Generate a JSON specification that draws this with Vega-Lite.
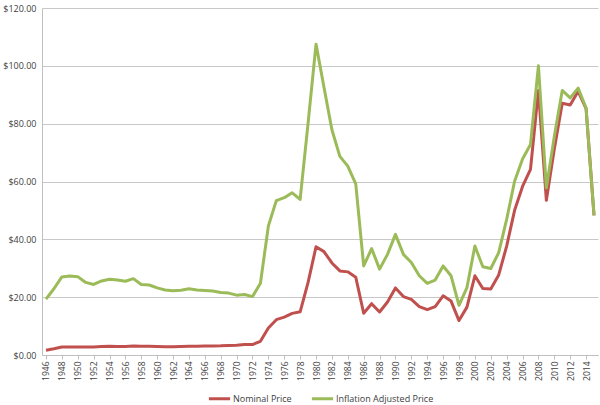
{
  "$schema": "https://vega.github.io/schema/vega-lite/v6.json",
  "autosize": {"type": "fit", "contains": "padding"},
  "width": 600,
  "height": 405,
  "padding": {"left": 2, "top": 4, "right": 2, "bottom": 0},
  "background": "white",
  "config": {
    "view": {"stroke": null},
    "font": "Open Sans",
    "axis": {"labelFont": "Open Sans", "labelColor": "#404040", "labelFontSize": 9},
    "legend": {"layout": {"bottom": {"anchor": "middle"}}}
  },
  "data": {"values": [
    {"year": "1946", "nominal": 1.63, "adjusted": 19.3},
    {"year": "1947", "nominal": 2.16, "adjusted": 22.9},
    {"year": "1948", "nominal": 2.77, "adjusted": 27.0},
    {"year": "1949", "nominal": 2.77, "adjusted": 27.3},
    {"year": "1950", "nominal": 2.77, "adjusted": 27.1},
    {"year": "1951", "nominal": 2.77, "adjusted": 25.1},
    {"year": "1952", "nominal": 2.77, "adjusted": 24.4},
    {"year": "1953", "nominal": 2.92, "adjusted": 25.6},
    {"year": "1954", "nominal": 2.99, "adjusted": 26.2},
    {"year": "1955", "nominal": 2.93, "adjusted": 25.9},
    {"year": "1956", "nominal": 2.94, "adjusted": 25.5},
    {"year": "1957", "nominal": 3.14, "adjusted": 26.4},
    {"year": "1958", "nominal": 3.00, "adjusted": 24.4},
    {"year": "1959", "nominal": 3.00, "adjusted": 24.2},
    {"year": "1960", "nominal": 2.91, "adjusted": 23.2},
    {"year": "1961", "nominal": 2.85, "adjusted": 22.5},
    {"year": "1962", "nominal": 2.85, "adjusted": 22.2},
    {"year": "1963", "nominal": 2.91, "adjusted": 22.4},
    {"year": "1964", "nominal": 3.00, "adjusted": 22.9},
    {"year": "1965", "nominal": 3.01, "adjusted": 22.5},
    {"year": "1966", "nominal": 3.10, "adjusted": 22.3},
    {"year": "1967", "nominal": 3.12, "adjusted": 22.1},
    {"year": "1968", "nominal": 3.18, "adjusted": 21.6},
    {"year": "1969", "nominal": 3.32, "adjusted": 21.4},
    {"year": "1970", "nominal": 3.39, "adjusted": 20.7},
    {"year": "1971", "nominal": 3.60, "adjusted": 20.9},
    {"year": "1972", "nominal": 3.60, "adjusted": 20.2},
    {"year": "1973", "nominal": 4.75, "adjusted": 24.8},
    {"year": "1974", "nominal": 9.35, "adjusted": 44.6},
    {"year": "1975", "nominal": 12.21, "adjusted": 53.4},
    {"year": "1976", "nominal": 13.10, "adjusted": 54.4},
    {"year": "1977", "nominal": 14.40, "adjusted": 56.1},
    {"year": "1978", "nominal": 14.95, "adjusted": 53.8},
    {"year": "1979", "nominal": 25.10, "adjusted": 80.2},
    {"year": "1980", "nominal": 37.42, "adjusted": 107.5},
    {"year": "1981", "nominal": 35.75, "adjusted": 92.6},
    {"year": "1982", "nominal": 31.83, "adjusted": 77.9},
    {"year": "1983", "nominal": 29.08, "adjusted": 68.7},
    {"year": "1984", "nominal": 28.75, "adjusted": 65.3},
    {"year": "1985", "nominal": 26.92, "adjusted": 59.2},
    {"year": "1986", "nominal": 14.44, "adjusted": 30.8},
    {"year": "1987", "nominal": 17.75, "adjusted": 36.8},
    {"year": "1988", "nominal": 14.87, "adjusted": 29.7},
    {"year": "1989", "nominal": 18.33, "adjusted": 34.8},
    {"year": "1990", "nominal": 23.19, "adjusted": 41.7},
    {"year": "1991", "nominal": 20.20, "adjusted": 34.8},
    {"year": "1992", "nominal": 19.25, "adjusted": 32.0},
    {"year": "1993", "nominal": 16.75, "adjusted": 27.4},
    {"year": "1994", "nominal": 15.66, "adjusted": 24.8},
    {"year": "1995", "nominal": 16.75, "adjusted": 25.9},
    {"year": "1996", "nominal": 20.46, "adjusted": 30.8},
    {"year": "1997", "nominal": 18.64, "adjusted": 27.4},
    {"year": "1998", "nominal": 11.91, "adjusted": 17.2},
    {"year": "1999", "nominal": 16.56, "adjusted": 23.3},
    {"year": "2000", "nominal": 27.39, "adjusted": 37.7},
    {"year": "2001", "nominal": 23.00, "adjusted": 30.5},
    {"year": "2002", "nominal": 22.81, "adjusted": 29.9},
    {"year": "2003", "nominal": 27.69, "adjusted": 35.4},
    {"year": "2004", "nominal": 37.66, "adjusted": 46.9},
    {"year": "2005", "nominal": 50.04, "adjusted": 60.1},
    {"year": "2006", "nominal": 58.30, "adjusted": 67.8},
    {"year": "2007", "nominal": 64.20, "adjusted": 72.8},
    {"year": "2008", "nominal": 91.48, "adjusted": 100.0},
    {"year": "2009", "nominal": 53.48, "adjusted": 57.8},
    {"year": "2010", "nominal": 71.21, "adjusted": 75.6},
    {"year": "2011", "nominal": 87.04, "adjusted": 91.5},
    {"year": "2012", "nominal": 86.46, "adjusted": 88.9},
    {"year": "2013", "nominal": 91.17, "adjusted": 92.3},
    {"year": "2014", "nominal": 85.20, "adjusted": 85.4},
    {"year": "2015", "nominal": 48.30, "adjusted": 48.3}
  ]},
  "encoding": {
    "x": {
      "field": "year", "type": "ordinal", "title": null,
      "axis": {
        "values": ["1946","1948","1950","1952","1954","1956","1958","1960","1962","1964","1966","1968","1970","1972","1974","1976","1978","1980","1982","1984","1986","1988","1990","1992","1994","1996","1998","2000","2002","2004","2006","2008","2010","2012","2014"],
        "labelAngle": -90, "labelAlign": "right", "labelBaseline": "middle",
        "labelFontSize": 8.5, "labelPadding": 2,
        "domainColor": "#bfbfbf", "tickColor": "#bfbfbf", "tickSize": 4,
        "grid": false
      }
    }
  },
  "layer": [
    {
      "mark": {"type": "line", "strokeWidth": 3, "strokeJoin": "round"},
      "encoding": {
        "y": {
          "field": "nominal", "type": "quantitative", "title": null,
          "scale": {"domain": [0, 120]},
          "axis": {
            "values": [0, 20, 40, 60, 80, 100, 120], "format": "$.2f",
            "labelFontSize": 9, "ticks": false, "labelPadding": 6,
            "domainColor": "#bfbfbf", "gridColor": "#c8c8c8", "gridWidth": 1
          }
        },
        "color": {
          "datum": "Nominal Price",
          "scale": {"domain": ["Nominal Price", "Inflation Adjusted Price"], "range": ["#C0504D", "#9BBB59"]},
          "legend": {
            "title": null, "orient": "bottom", "direction": "horizontal",
            "symbolType": "stroke", "symbolStrokeWidth": 3, "symbolSize": 450,
            "labelFontSize": 9, "labelColor": "#404040", "labelOffset": 1,
            "columnPadding": 13, "offset": 5
          }
        }
      }
    },
    {
      "mark": {"type": "line", "strokeWidth": 3, "strokeJoin": "round"},
      "encoding": {
        "y": {"field": "adjusted", "type": "quantitative"},
        "color": {"datum": "Inflation Adjusted Price"}
      }
    }
  ]
}
